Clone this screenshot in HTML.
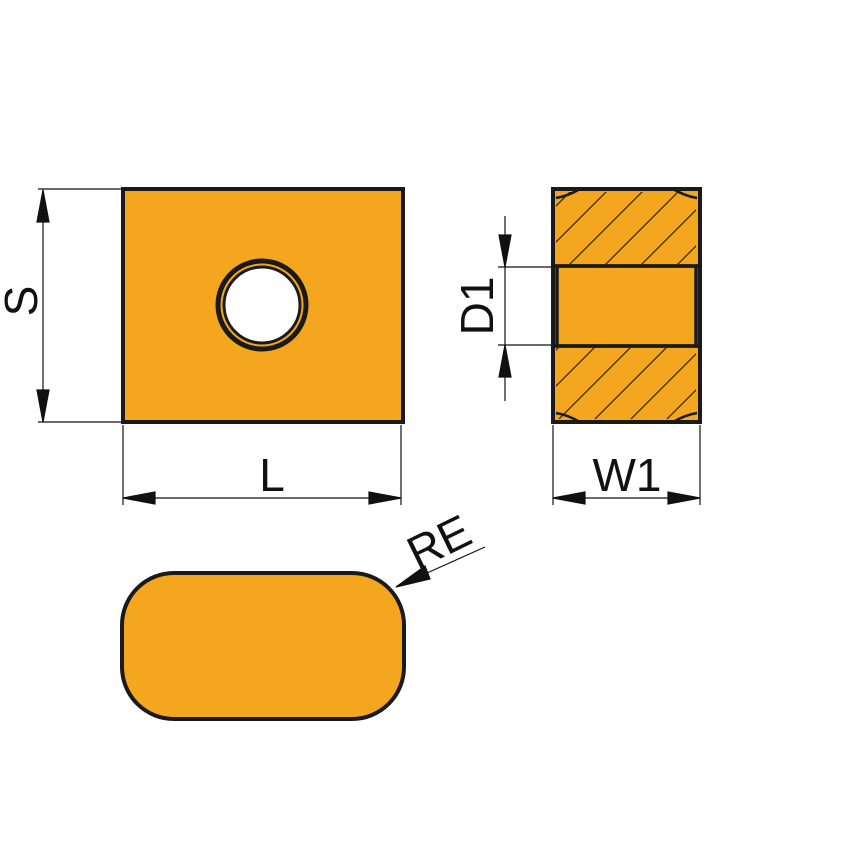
<!DOCTYPE html>
<html><head><style>body{margin:0;background:#fff}svg{display:block}</style></head><body>
<svg width="854" height="854" viewBox="0 0 854 854" xmlns="http://www.w3.org/2000/svg" font-family="Liberation Sans, sans-serif">
<defs>
<clipPath id="ct"><rect x="556" y="192" width="140" height="72"/><rect x="556" y="348" width="140" height="71"/></clipPath>
</defs>
<g stroke="#111" fill="none" stroke-width="1.2">
<line x1="38" y1="189" x2="122" y2="189"/><line x1="38" y1="422" x2="122" y2="422"/>
<line x1="43" y1="190" x2="43" y2="422"/>
<path d="M37,222 L43,190 L49,222z M37,390 L43,422 L49,390z" fill="#111"/>
<line x1="123" y1="425" x2="123" y2="505"/><line x1="401" y1="425" x2="401" y2="505"/>
<line x1="123" y1="498" x2="401" y2="498"/>
<path d="M123,498 L155,492 L155,504z M401,498 L369,492 L369,504z" fill="#111"/>
<line x1="553" y1="425" x2="553" y2="505"/><line x1="700" y1="425" x2="700" y2="505"/>
<line x1="553" y1="498" x2="700" y2="498"/>
<path d="M553,498 L585,492 L585,504z M700,498 L668,492 L668,504z" fill="#111"/>
<line x1="498" y1="267" x2="552" y2="267"/><line x1="498" y1="345" x2="552" y2="345"/>
<line x1="505" y1="216" x2="505" y2="401"/>
<path d="M499,235 L505,267 L511,235z M499,377 L505,345 L511,377z" fill="#111"/>
<line x1="485" y1="547" x2="398" y2="586"/>
<path d="M396,587 L425,566 L430,579z" fill="#111"/>
</g>
<rect x="123" y="189" width="280" height="233" fill="#F5A61F" stroke="#1a1a1a" stroke-width="4"/>
<circle cx="262" cy="305" r="44" fill="#F5A61F" stroke="#1a1a1a" stroke-width="5"/>
<circle cx="262" cy="305" r="38" fill="#fff" stroke="#1a1a1a" stroke-width="3"/>
<rect x="553" y="189" width="147" height="233" fill="#F5A61F" stroke="#1a1a1a" stroke-width="4"/>
<g clip-path="url(#ct)" stroke="#222" stroke-width="1.2">
<line x1="332" y1="430" x2="572" y2="190"/><line x1="368" y1="430" x2="608" y2="190"/><line x1="404" y1="430" x2="644" y2="190"/>
<line x1="440" y1="430" x2="680" y2="190"/><line x1="476" y1="430" x2="716" y2="190"/><line x1="512" y1="430" x2="752" y2="190"/>
<line x1="548" y1="430" x2="788" y2="190"/><line x1="584" y1="430" x2="824" y2="190"/><line x1="620" y1="430" x2="860" y2="190"/>
<line x1="656" y1="430" x2="896" y2="190"/>
</g>
<g stroke="#1a1a1a" fill="none">
<rect x="557" y="266" width="139" height="80" fill="#F5A61F" stroke-width="3.5"/>
<line x1="553" y1="266" x2="700" y2="266" stroke-width="3.5"/><line x1="553" y1="346" x2="700" y2="346" stroke-width="3.5"/>
<path d="M556,198 Q568,196 580,189 M697,198 Q685,196 673,189 M556,413 Q568,415 580,422 M697,413 Q685,415 673,422" stroke-width="2.5"/>
</g>
<rect x="122" y="573" width="282" height="146" rx="52" fill="#F5A61F" stroke="#1a1a1a" stroke-width="4"/>
<g font-size="46" fill="#111">
<text x="272" y="491" text-anchor="middle">L</text>
<text x="627" y="491" text-anchor="middle">W1</text>
<text transform="translate(37,301) rotate(-90)" text-anchor="middle">S</text>
<text transform="translate(493,306) rotate(-90)" text-anchor="middle">D1</text>
<text transform="translate(446,556) rotate(-26)" text-anchor="middle">RE</text>
</g>
</svg>
</body></html>
